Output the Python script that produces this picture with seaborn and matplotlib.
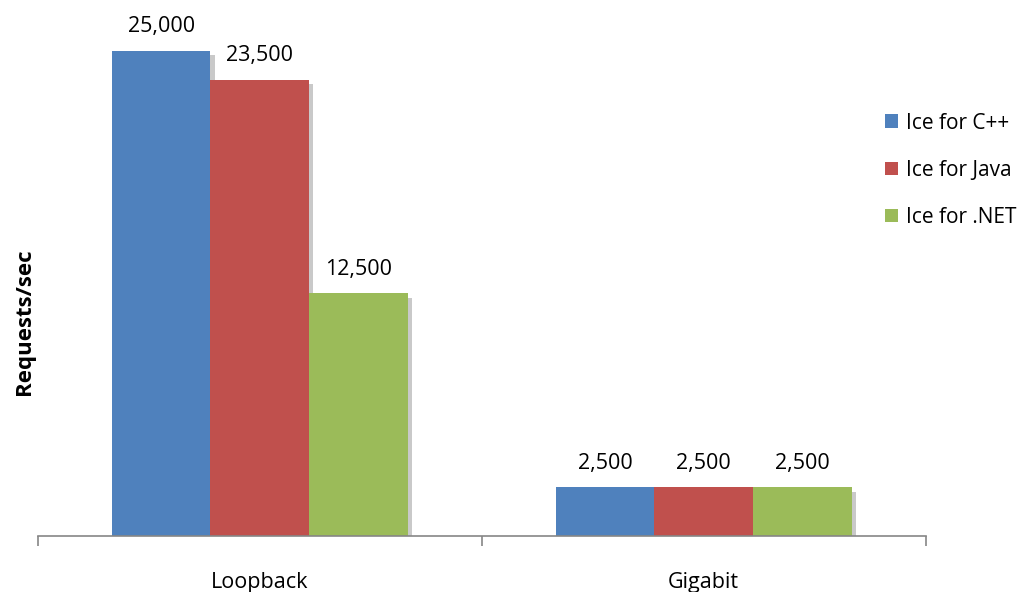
import pandas as pd
import matplotlib.pyplot as plt
import matplotlib.patheffects as pe
import seaborn as sns

# chart values
networks = ['Loopback', 'Gigabit']
products = ['Ice for C++', 'Ice for Java', 'Ice for .NET']
cpp = [25000, 2500]
java = [23500, 2500]
dotnet = [12500, 2500]
colors = ['#4F81BD', '#C0504D', '#9BBB59']

df = pd.DataFrame({
    'network': networks * 3,
    'product': [p for p in products for _ in networks],
    'requests': cpp + java + dotnet,
})

sns.set_style('white')
plt.rcParams['font.family'] = ['Open Sans', 'DejaVu Sans']
plt.rcParams['text.color'] = 'black'
plt.rcParams['axes.labelcolor'] = 'black'
plt.rcParams['xtick.color'] = 'black'

fig = plt.figure(figsize=(10.25, 5.92), dpi=100)
ax = fig.add_axes([0.037, 0.0946, 0.866, 0.885])

sns.barplot(data=df, x='network', y='requests', hue='product',
            order=networks, hue_order=products, palette=colors,
            width=0.667, saturation=1, ax=ax, legend=True)

handles, labels = ax.get_legend_handles_labels()

# drop shadow on the bars
for bar in ax.patches:
    bar.set_linewidth(0)
    bar.set_path_effects([pe.SimplePatchShadow(offset=(3, -3), shadow_rgbFace='#666666', alpha=0.35),
                          pe.Normal()])

for cont in ax.containers:
    ax.bar_label(cont, fmt='{:,.0f}', padding=10, fontsize=15.5)

ax.set_xlim(-0.5, 1.5)
ax.set_ylim(0, 27000)
ax.set_yticks([])
ax.set_xlabel('')
ax.set_ylabel('Requests/sec', fontsize=16, fontweight='bold')
ax.yaxis.set_label_coords(-0.0035, 0.41)

for s in ['left', 'top', 'right']:
    ax.spines[s].set_visible(False)
ax.spines['bottom'].set_color('#868686')
ax.spines['bottom'].set_linewidth(1.2)

ax.set_xticks([0, 1])
ax.set_xticklabels(networks, fontsize=15.5)
ax.tick_params(axis='x', which='major', length=0, pad=26)
ax.set_xticks([-0.5, 0.5, 1.5], minor=True)
ax.tick_params(axis='x', which='minor', bottom=True, length=7, width=1.2,
               color='#868686', direction='out')

leg = ax.legend(handles, labels, loc='upper left', bbox_to_anchor=(866 / 1025, 1 - 94 / 592),
                bbox_transform=fig.transFigure, frameon=False, fontsize=15,
                handlelength=0.65, handleheight=0.65, handletextpad=0.35, labelspacing=1.25)
for h in leg.legend_handles:
    h.set_path_effects([])
    h.set_linewidth(0)

plt.savefig('out.png', dpi=100)
